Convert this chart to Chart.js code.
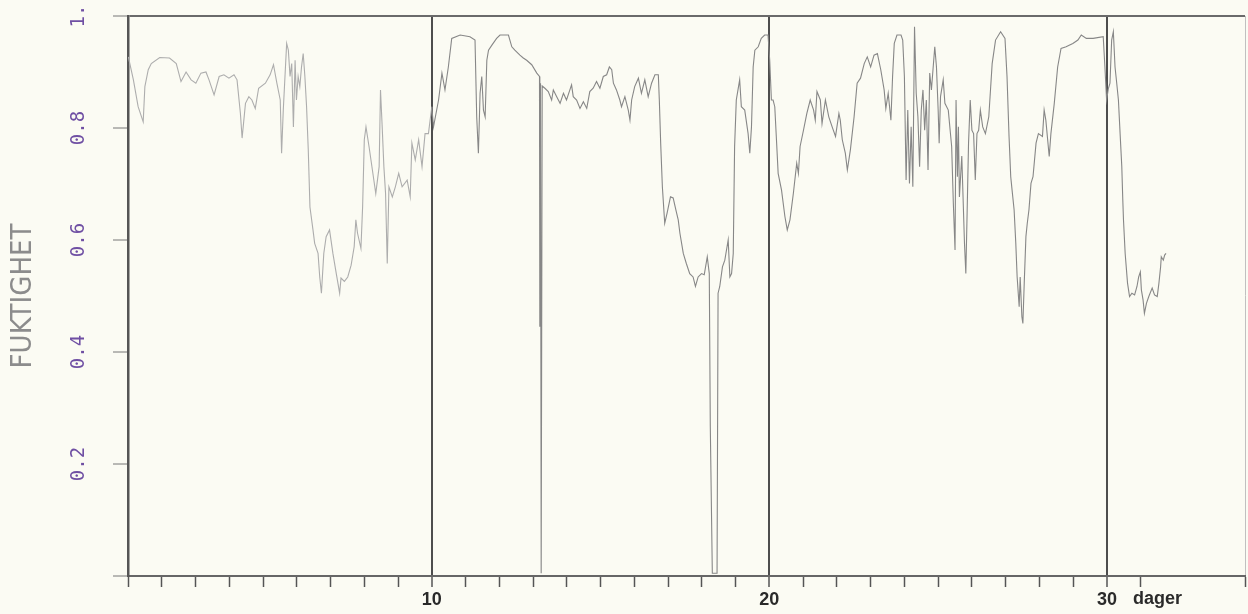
<!DOCTYPE html>
<html><head><meta charset="utf-8">
<script src="https://cdn.jsdelivr.net/npm/chart.js@4"></script>
<style>
html,body{margin:0;padding:0;background:#fbfbf3;}
#wrap{position:relative;width:1248px;height:614px;}
</style></head><body>
<div id="wrap"><canvas id="c" width="1248" height="614"></canvas></div>
<script>
const yTitle = 'FUKTIGHET';
const xUnit = 'dager';
const xMin = 1, xMax = 34.09;
const xTickDays = [1,2,3,4,5,6,7,8,9,10,11,12,13,14,15,16,17,18,19,20,21,22,23,24,25,26,27,28,29,30,31];
const xLabeledDays = [10,20,30];
const yTickValues = [0,0.2,0.4,0.6,0.8,1];
const yTickLabels = ['','0.2','0.4','0.6','0.8','1.'];

// [day, humidity]
const period1 = [[1.01,0.927],[1.16,0.886],[1.30,0.838],[1.45,0.811],[1.50,0.874],[1.60,0.904],[1.69,0.915],[1.94,0.926],[2.23,0.925],[2.43,0.915],[2.57,0.883],[2.72,0.900],[2.87,0.886],[3.01,0.880],[3.16,0.898],[3.31,0.900],[3.40,0.886],[3.55,0.859],[3.70,0.892],[3.84,0.895],[3.99,0.889],[4.14,0.895],[4.23,0.886],[4.33,0.826],[4.38,0.782],[4.48,0.844],[4.58,0.856],[4.67,0.850],[4.77,0.835],[4.87,0.871],[5.07,0.880],[5.21,0.895],[5.31,0.913],[5.41,0.880],[5.51,0.850],[5.55,0.755],[5.60,0.832],[5.70,0.951],[5.75,0.939],[5.80,0.892],[5.85,0.915],[5.90,0.802],[5.95,0.921],[5.99,0.850],[6.04,0.892],[6.09,0.874],[6.14,0.909],[6.19,0.933],[6.24,0.892],[6.29,0.838],[6.34,0.761],[6.39,0.659],[6.48,0.618],[6.53,0.594],[6.63,0.576],[6.68,0.534],[6.73,0.505],[6.80,0.576],[6.87,0.606],[6.97,0.618],[7.07,0.576],[7.17,0.540],[7.27,0.505],[7.31,0.532],[7.41,0.526],[7.51,0.534],[7.61,0.555],[7.70,0.588],[7.75,0.636],[7.80,0.612],[7.90,0.585],[7.95,0.659],[8.00,0.779],[8.05,0.802],[8.14,0.767],[8.24,0.725],[8.34,0.683],[8.44,0.731],[8.48,0.868],[8.53,0.802],[8.58,0.731],[8.63,0.683],[8.68,0.558],[8.73,0.695],[8.83,0.677],[8.92,0.695],[9.02,0.719],[9.12,0.695],[9.27,0.707],[9.36,0.677],[9.41,0.773],[9.51,0.743],[9.61,0.779],[9.71,0.731],[9.80,0.790],[9.90,0.790],[10.00,0.838]];

const period2 = [[10.05,0.802],[10.20,0.850],[10.30,0.898],[10.39,0.868],[10.49,0.909],[10.59,0.960],[10.84,0.966],[11.13,0.963],[11.28,0.957],[11.33,0.820],[11.38,0.755],[11.43,0.862],[11.48,0.892],[11.53,0.832],[11.58,0.820],[11.63,0.921],[11.68,0.939],[11.78,0.948],[11.92,0.960],[12.02,0.966],[12.27,0.966],[12.37,0.945],[12.46,0.939],[12.61,0.930],[12.71,0.925],[12.81,0.921],[12.96,0.913],[13.11,0.898],[13.19,0.892],[13.20,0.445],[13.22,0.880],[13.24,0.005],[13.27,0.875],[13.35,0.871],[13.45,0.865],[13.55,0.850],[13.60,0.868],[13.70,0.856],[13.80,0.844],[13.90,0.862],[13.99,0.850],[14.09,0.868],[14.14,0.877],[14.19,0.856],[14.29,0.850],[14.39,0.835],[14.49,0.847],[14.59,0.835],[14.68,0.865],[14.78,0.871],[14.88,0.883],[14.98,0.871],[15.08,0.892],[15.18,0.895],[15.26,0.909],[15.33,0.904],[15.38,0.880],[15.47,0.868],[15.57,0.850],[15.62,0.838],[15.72,0.856],[15.82,0.832],[15.87,0.814],[15.92,0.850],[16.01,0.874],[16.12,0.889],[16.21,0.862],[16.31,0.886],[16.41,0.856],[16.51,0.880],[16.61,0.895],[16.71,0.895],[16.74,0.850],[16.78,0.773],[16.83,0.695],[16.90,0.630],[16.97,0.648],[17.07,0.677],[17.15,0.675],[17.23,0.654],[17.30,0.636],[17.35,0.612],[17.45,0.576],[17.54,0.558],[17.64,0.540],[17.74,0.534],[17.81,0.517],[17.89,0.534],[17.99,0.540],[18.07,0.538],[18.16,0.570],[18.22,0.540],[18.25,0.267],[18.31,0.005],[18.45,0.005],[18.48,0.505],[18.53,0.517],[18.61,0.552],[18.68,0.564],[18.78,0.600],[18.83,0.534],[18.88,0.540],[18.93,0.576],[18.97,0.767],[19.02,0.850],[19.07,0.868],[19.12,0.886],[19.17,0.838],[19.27,0.832],[19.37,0.790],[19.42,0.755],[19.47,0.802],[19.52,0.909],[19.57,0.939],[19.67,0.945],[19.76,0.960],[19.86,0.966],[19.96,0.966]];

const period3 = [[20.01,0.921],[20.06,0.850],[20.11,0.850],[20.16,0.838],[20.21,0.779],[20.26,0.719],[20.36,0.689],[20.46,0.642],[20.53,0.618],[20.61,0.636],[20.71,0.683],[20.81,0.737],[20.86,0.719],[20.91,0.767],[21.01,0.796],[21.11,0.826],[21.21,0.850],[21.31,0.832],[21.36,0.814],[21.41,0.865],[21.51,0.850],[21.56,0.808],[21.66,0.850],[21.76,0.820],[21.86,0.802],[21.96,0.785],[22.06,0.826],[22.10,0.814],[22.16,0.779],[22.25,0.755],[22.31,0.725],[22.40,0.761],[22.51,0.820],[22.60,0.880],[22.70,0.889],[22.81,0.915],[22.90,0.927],[23.00,0.909],[23.10,0.930],[23.20,0.933],[23.30,0.904],[23.40,0.868],[23.45,0.835],[23.52,0.862],[23.60,0.814],[23.65,0.892],[23.70,0.951],[23.78,0.966],[23.90,0.966],[23.95,0.957],[24.00,0.892],[24.05,0.707],[24.10,0.832],[24.15,0.701],[24.20,0.802],[24.25,0.695],[24.30,0.981],[24.35,0.862],[24.40,0.820],[24.45,0.731],[24.50,0.832],[24.55,0.868],[24.60,0.796],[24.65,0.850],[24.70,0.725],[24.75,0.898],[24.80,0.868],[24.90,0.945],[24.95,0.909],[25.00,0.832],[25.03,0.773],[25.07,0.856],[25.15,0.886],[25.20,0.844],[25.30,0.832],[25.40,0.767],[25.45,0.665],[25.50,0.582],[25.53,0.850],[25.57,0.713],[25.60,0.802],[25.63,0.677],[25.70,0.750],[25.78,0.594],[25.82,0.540],[25.86,0.654],[25.90,0.773],[25.95,0.850],[26.00,0.796],[26.05,0.790],[26.10,0.707],[26.15,0.790],[26.20,0.796],[26.25,0.832],[26.32,0.802],[26.40,0.790],[26.50,0.820],[26.60,0.915],[26.70,0.957],[26.85,0.972],[26.98,0.960],[27.04,0.892],[27.10,0.785],[27.15,0.713],[27.19,0.689],[27.25,0.654],[27.30,0.594],[27.34,0.534],[27.40,0.481],[27.43,0.534],[27.48,0.463],[27.51,0.451],[27.55,0.523],[27.60,0.606],[27.64,0.630],[27.69,0.654],[27.75,0.701],[27.81,0.713],[27.90,0.773],[27.97,0.790],[28.09,0.785],[28.14,0.832],[28.19,0.814],[28.29,0.749],[28.34,0.790],[28.44,0.844],[28.54,0.909],[28.64,0.942],[28.79,0.945],[28.99,0.951],[29.14,0.957],[29.24,0.966],[29.39,0.960],[29.59,0.960],[29.89,0.963],[29.94,0.909],[29.99,0.850]];

const period4 = [[30.04,0.870],[30.09,0.880],[30.14,0.957],[30.19,0.972],[30.24,0.909],[30.29,0.880],[30.34,0.850],[30.39,0.790],[30.44,0.731],[30.47,0.671],[30.49,0.636],[30.54,0.576],[30.61,0.523],[30.67,0.499],[30.74,0.505],[30.82,0.502],[30.89,0.517],[30.94,0.534],[30.99,0.543],[31.02,0.511],[31.07,0.493],[31.11,0.469],[31.17,0.487],[31.24,0.499],[31.34,0.514],[31.41,0.502],[31.49,0.499],[31.54,0.523],[31.59,0.552],[31.61,0.570],[31.67,0.564],[31.71,0.573],[31.75,0.576]];

Chart.defaults.font.family = '"Liberation Sans", Arial, sans-serif';

const extraText = {
  id: 'extraText',
  afterDraw(chart) {
    const {ctx, scales: {x, y}} = chart;
    ctx.save();
    ctx.fillStyle = '#6f4fa3';
    ctx.font = '19px "DejaVu Sans Mono", monospace';
    ctx.textAlign = 'center';
    ctx.textBaseline = 'middle';
    yTickValues.forEach((v, i) => {
      if (!yTickLabels[i]) return;
      const py = y.getPixelForValue(v);
      ctx.save();
      ctx.translate(79, py);
      ctx.rotate(-Math.PI / 2);
      ctx.fillText(yTickLabels[i], 0, 0);
      ctx.restore();
    });
    ctx.fillStyle = '#2a2a2a';
    ctx.font = 'bold 18px "Liberation Sans", Arial, sans-serif';
    ctx.textAlign = 'left';
    ctx.fillText(xUnit, x.getPixelForValue(30) + 26, 599);
    ctx.restore();
  }
};

const points = [...period1, ...period2, ...period3, ...period4].map(([d, v]) => ({x: d, y: v}));

new Chart(document.getElementById('c'), {
  type: 'line',
  data: {
    datasets: [{
      data: points,
      borderColor: '#8a8a8a',
      borderWidth: 1.1,
      pointRadius: 0,
      tension: 0,
      segment: { borderColor: c => c.p0.parsed.x < 10 ? '#adadad' : '#878787' }
    }]
  },
  options: {
    responsive: false,
    animation: false,
    layout: { padding: { left: 0, top: 16, right: 3, bottom: 0 } },
    plugins: { legend: { display: false }, tooltip: { enabled: false } },
    scales: {
      x: {
        type: 'linear', min: xMin, max: xMax,
        afterBuildTicks: s => { s.ticks = [...xTickDays, xMax].map(v => ({value: v})); },
        afterFit: s => { s.height = 38; },
        ticks: {
          autoSkip: false, maxRotation: 0, minRotation: 0, padding: 2,
          color: '#2a2a2a',
          font: { family: '"Liberation Sans", Arial, sans-serif', weight: 'bold', size: 18 },
          callback: v => xLabeledDays.includes(v) ? String(v) : ''
        },
        grid: {
          drawOnChartArea: true,
          color: c => (c.tick && xLabeledDays.includes(c.tick.value)) ? '#4d4d4d' : ((c.tick && c.tick.value === xMax) ? '#c0c0c0' : 'rgba(0,0,0,0)'),
          lineWidth: c => (c.tick && xLabeledDays.includes(c.tick.value)) ? 2 : 1,
          tickLength: 11, tickColor: '#555', tickWidth: 1.5
        },
        border: { display: true, color: '#666', width: 2 }
      },
      y: {
        min: 0, max: 1,
        afterBuildTicks: s => { s.ticks = yTickValues.map(v => ({value: v})); },
        afterFit: s => { s.width = 128; },
        ticks: { display: false },
        title: {
          display: true, text: yTitle, color: '#8c8c8c',
          font: { family: '"DejaVu Sans Condensed", "DejaVu Sans", sans-serif', size: 29 },
          padding: { top: 6, bottom: 0 }
        },
        grid: {
          color: c => (c.tick && c.tick.value === 1) ? '#6a6a6a' : 'rgba(0,0,0,0)',
          lineWidth: 2, tickLength: 15, tickColor: '#777', tickWidth: 1
        },
        border: { display: true, color: '#555', width: 2.5 }
      }
    }
  },
  plugins: [extraText]
});
</script>
</body></html>
